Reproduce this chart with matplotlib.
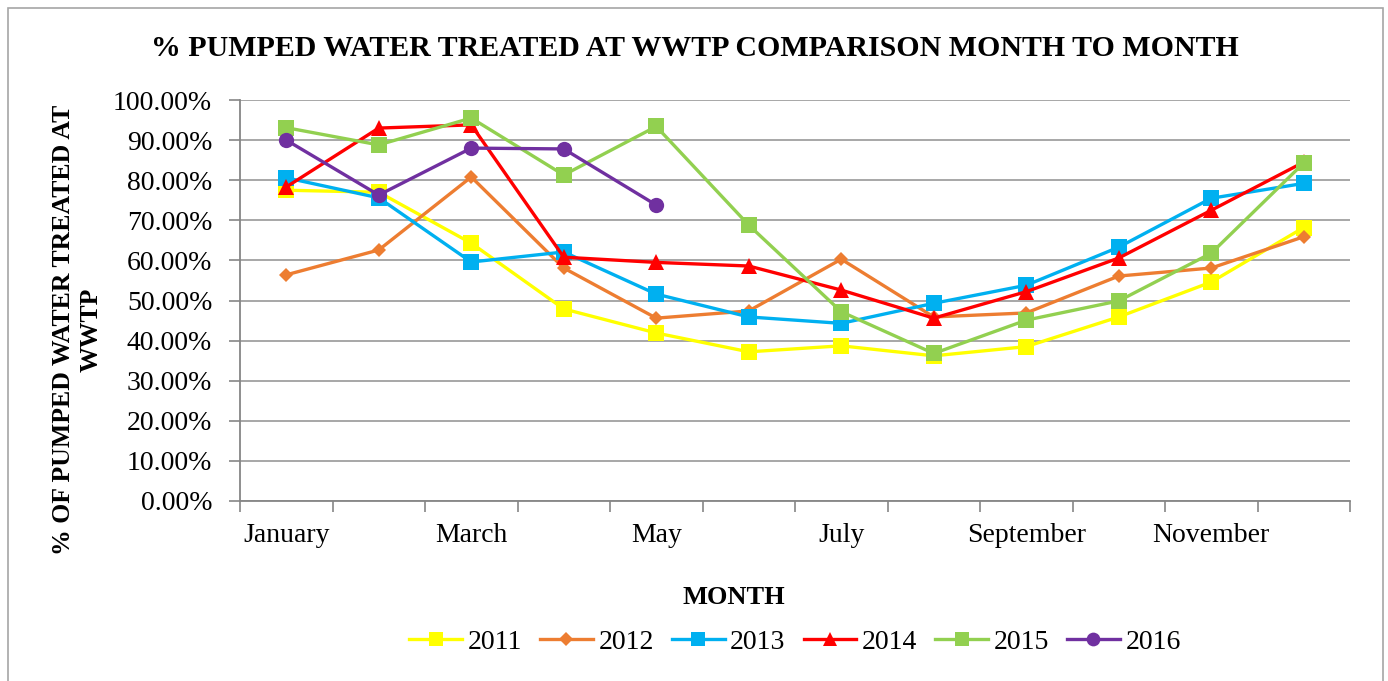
import matplotlib.pyplot as plt
import matplotlib.patches as patches
from matplotlib.ticker import FuncFormatter, FixedLocator
import numpy as np

plt.rcParams['font.family'] = ['Liberation Serif', 'DejaVu Serif']

# data
months = ['January', 'February', 'March', 'April', 'May', 'June', 'July',
          'August', 'September', 'October', 'November', 'December']
y2011 = [77.5, 77.0, 64.3, 47.9, 41.9, 37.2, 38.7, 36.2, 38.5, 45.9, 54.6, 68.2]
y2012 = [56.4, 62.6, 80.8, 58.1, 45.6, 47.4, 60.3, 45.9, 46.9, 56.1, 58.1, 65.9]
y2013 = [80.6, 75.6, 59.6, 62.1, 51.6, 45.9, 44.3, 49.3, 53.8, 63.3, 75.5, 79.2]
y2014 = [78.3, 93.0, 93.8, 60.8, 59.5, 58.6, 52.6, 45.6, 52.2, 60.6, 72.5, 84.5]
y2015 = [93.1, 88.8, 95.5, 81.3, 93.4, 68.8, 47.2, 36.8, 45.1, 49.9, 61.8, 84.3]
y2016 = [90.0, 76.3, 88.0, 87.8, 73.8]

series = [
    ('2011', y2011, '#FFFF00', 's', 11),
    ('2012', y2012, '#ED7D31', 'D', 7.5),
    ('2013', y2013, '#00B0F0', 's', 11),
    ('2014', y2014, '#FF0000', '^', 11),
    ('2015', y2015, '#92D050', 's', 11),
    ('2016', y2016, '#7030A0', 'o', 11),
]

fig = plt.figure(figsize=(13.88, 6.81), dpi=100)
ax = fig.add_axes([240 / 1388, 1 - 501 / 681, 1110 / 1388, 401 / 681])

# outer chart border
fig.patches.append(patches.Rectangle((8 / 1388, -0.05), 1375 / 1388, 1.05 - 8 / 681,
                                     transform=fig.transFigure, fill=False,
                                     edgecolor='#A6A6A6', linewidth=1.2))

x = np.arange(len(months))
for name, vals, col, mk, ms in series:
    ax.plot(x[:len(vals)], vals, color=col, marker=mk, markersize=ms,
            linewidth=2.4, label=name, markeredgewidth=0, zorder=3)

ax.set_xlim(-0.5, 11.5)
ax.set_ylim(0, 100)
ax.set_yticks(np.arange(0, 101, 10))
ax.yaxis.set_major_formatter(FuncFormatter(lambda v, p: f'{v:.2f}%'))
ax.grid(axis='y', color='#A0A0A0', linewidth=1.3)
ax.set_axisbelow(True)

# category axis: ticks between months, every other label shown
ax.xaxis.set_major_locator(FixedLocator(x))
ax.set_xticklabels([m if i % 2 == 0 else '' for i, m in enumerate(months)])
ax.xaxis.set_minor_locator(FixedLocator(np.arange(-0.5, 12, 1)))
ax.tick_params(axis='x', which='major', length=0, pad=16, labelsize=20)
ax.tick_params(axis='x', which='minor', length=8, color='#868686', width=1.2)
ax.tick_params(axis='y', length=8, color='#868686', width=1.2, labelsize=20, pad=12)

for s in ['top', 'right']:
    ax.spines[s].set_visible(False)
for s in ['left', 'bottom']:
    ax.spines[s].set_color('#868686')
    ax.spines[s].set_linewidth(1.3)

fig.text(695 / 1388, 1 - 48 / 681, '% PUMPED WATER TREATED AT WWTP COMPARISON MONTH TO MONTH',
         ha='center', va='center', fontsize=21.5, fontweight='bold')
fig.text(77 / 1388, 1 - 330 / 681, '% OF PUMPED WATER TREATED AT\nWWTP',
         ha='center', va='center', rotation=90, fontsize=18.5, fontweight='bold',
         linespacing=1.25)
fig.text(734 / 1388, 1 - 598 / 681, 'MONTH', ha='center', va='center',
         fontsize=19, fontweight='bold')

ax.legend(loc='center', bbox_to_anchor=(795 / 1388, 1 - 642 / 681),
          bbox_transform=fig.transFigure, ncol=6, frameon=False, fontsize=20,
          handlelength=1.9, handletextpad=0.2, columnspacing=0.65, markerscale=0.9)

plt.savefig('out.png', dpi=100, facecolor='white')
plt.close()
